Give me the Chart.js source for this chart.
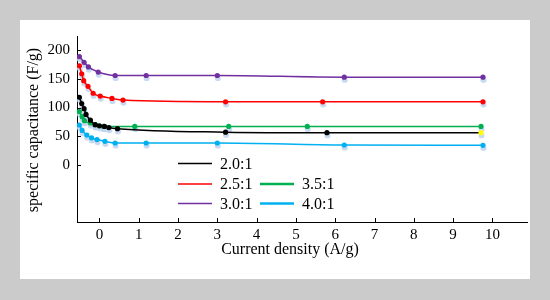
<!DOCTYPE html>
<html>
<head>
<meta charset="utf-8">
<script src="https://cdn.jsdelivr.net/npm/chart.js@4.4.1/dist/chart.umd.min.js"></script>
<style>
  html, body { margin: 0; padding: 0; background: #cbcbcb; width: 550px; height: 300px; overflow: hidden; }
  #panel { position: absolute; left: 20px; top: 20px; width: 510px; height: 259px; background: #ffffff; }
  canvas { display: block; }
</style>
</head>
<body>
<div id="panel"><canvas id="c" width="510" height="259"></canvas></div>
<script>
// ---- data ----
const seriesLabels = ["2.0:1", "2.5:1", "3.0:1", "3.5:1", "4.0:1"];
const seriesColors = ["#000000", "#ff0000", "#7030a0", "#00b050", "#00b0f0"];

const x20 = [-0.51, -0.45, -0.39, -0.34, -0.23, -0.11, 0.00, 0.13, 0.24, 0.46, 3.21, 5.79, 9.71];
const y20 = [118, 107, 98, 88, 78, 70, 68, 67, 65, 63, 57, 56, 56];

const x25 = [-0.51, -0.45, -0.40, -0.29, -0.16, 0.02, 0.32, 0.60, 3.21, 5.68, 9.76];
const y25 = [173, 159, 147, 137, 125, 120, 116, 113, 110, 110, 110];

const x30 = [-0.51, -0.39, -0.28, -0.03, 0.40, 1.19, 3.00, 6.23, 9.76];
const y30 = [189, 179, 171, 162, 156, 156, 156, 153, 153];

const x35 = [-0.51, -0.44, -0.38, -0.23, -0.10, 0.10, 0.90, 3.29, 5.29, 9.71];
const y35 = [93, 84, 77, 73, 70, 67, 67, 67, 67, 67];

const x40 = [-0.51, -0.44, -0.32, -0.20, -0.06, 0.14, 0.40, 1.19, 3.00, 6.23, 9.76];
const y40 = [69.5, 60, 52, 47, 44, 41, 38, 38, 38, 34.5, 34];

const xTickValues = [0, 1, 2, 3, 4, 5, 6, 7, 8, 9, 10];
const yTickValues = [0, 50, 100, 150, 200];
const xTitle = "Current density (A/g)";
const yTitle = "specific capacitance (F/g)";

// ---- build ----
const xs = [x20, x25, x30, x35, x40];
const ys = [y20, y25, y30, y35, y40];
const pts = (xa, ya) => xa.map((v, i) => ({ x: v, y: ya[i] }));

const datasets = seriesLabels.map((lab, i) => ({
  label: lab,
  data: pts(xs[i], ys[i]),
  borderColor: seriesColors[i],
  backgroundColor: seriesColors[i],
  pointBackgroundColor: (i === 0)
    ? (ctx => ctx.dataIndex === x20.length - 1 ? "#ffff00" : "#000000")
    : seriesColors[i],
  pointBorderWidth: 0,
  pointRadius: 2.6,
  pointHoverRadius: 2.6,
  borderWidth: 1.5,
  cubicInterpolationMode: "monotone",
  fill: false
}));

const FONT = "'Liberation Serif', 'Times New Roman', serif";

const shadowPlugin = {
  id: "shadow",
  beforeDatasetsDraw(chart) {
    const ctx = chart.ctx;
    ctx.save();
    ctx.fillStyle = "rgba(190,212,238,0.85)";
    chart.data.datasets.forEach((d, i) => {
      chart.getDatasetMeta(i).data.forEach(p => {
        ctx.beginPath();
        ctx.ellipse(p.x + 0.5, p.y + 3, 3, 2.6, 0, 0, Math.PI * 2);
        ctx.fill();
      });
    });
    ctx.restore();
  }
};

const decoPlugin = {
  id: "deco",
  afterDraw(chart) {
    const ctx = chart.ctx;
    const xS = chart.scales.x, yS = chart.scales.y;
    const a = chart.chartArea;
    ctx.save();
    // inward ticks
    ctx.strokeStyle = "#000";
    ctx.lineWidth = 1;
    ctx.beginPath();
    xTickValues.forEach(v => {
      const px = Math.round(xS.getPixelForValue(v)) + 0.5;
      ctx.moveTo(px, a.bottom);
      ctx.lineTo(px, a.bottom - 4);
    });
    yTickValues.forEach(v => {
      const py = Math.round(yS.getPixelForValue(v)) + 0.5;
      ctx.moveTo(a.left, py);
      ctx.lineTo(a.left + 4, py);
    });
    ctx.stroke();
    // axis titles
    ctx.fillStyle = "#000";
    ctx.font = "16px " + FONT;
    ctx.textAlign = "center";
    ctx.textBaseline = "middle";
    ctx.fillText(xTitle, 270, 230);
    ctx.save();
    ctx.translate(14, 110);
    ctx.rotate(-Math.PI / 2);
    ctx.fillText(yTitle, 0, 0);
    ctx.restore();
    // legend: first three in column 1, remaining two in column 2 (rows 2-3)
    const rowY = [143.5, 164, 183.5];
    const colX = [158, 240];
    ctx.textAlign = "left";
    chart.data.datasets.forEach((d, i) => {
      const col = i < 3 ? 0 : 1;
      const row = i < 3 ? i : i - 2;
      const lx = colX[col], ly = rowY[row];
      ctx.strokeStyle = d.borderColor;
      ctx.lineWidth = col === 0 ? 1.5 : 2.5;
      ctx.beginPath();
      ctx.moveTo(lx, ly);
      ctx.lineTo(lx + 34, ly);
      ctx.stroke();
      ctx.fillStyle = "#000";
      ctx.fillText(d.label, lx + 42, ly + 1);
    });
    ctx.restore();
  }
};

new Chart(document.getElementById("c"), {
  type: "line",
  data: { datasets },
  options: {
    responsive: false,
    animation: false,
    events: [],
    layout: { padding: { left: 0, top: 13, right: 3, bottom: 0 } },
    plugins: { legend: { display: false }, tooltip: { enabled: false } },
    scales: {
      x: {
        type: "linear",
        min: -0.57,
        max: 10.88,
        afterBuildTicks(s) { s.ticks = xTickValues.map(v => ({ value: v })); },
        afterFit(s) { s.height = 57; },
        grid: { display: false, drawTicks: false },
        border: { display: true, color: "#000", width: 1 },
        ticks: { color: "#000", font: { family: FONT, size: 15 }, padding: 4, maxRotation: 0, autoSkip: false }
      },
      y: {
        type: "linear",
        min: -100,
        max: 225,
        afterBuildTicks(s) { s.ticks = yTickValues.map(v => ({ value: v })); },
        afterFit(s) { s.width = 57; },
        grid: { display: false, drawTicks: false },
        border: { display: true, color: "#000", width: 1 },
        ticks: { color: "#000", font: { family: FONT, size: 15 }, padding: 7 }
      }
    }
  },
  plugins: [shadowPlugin, decoPlugin]
});
</script>
</body>
</html>
